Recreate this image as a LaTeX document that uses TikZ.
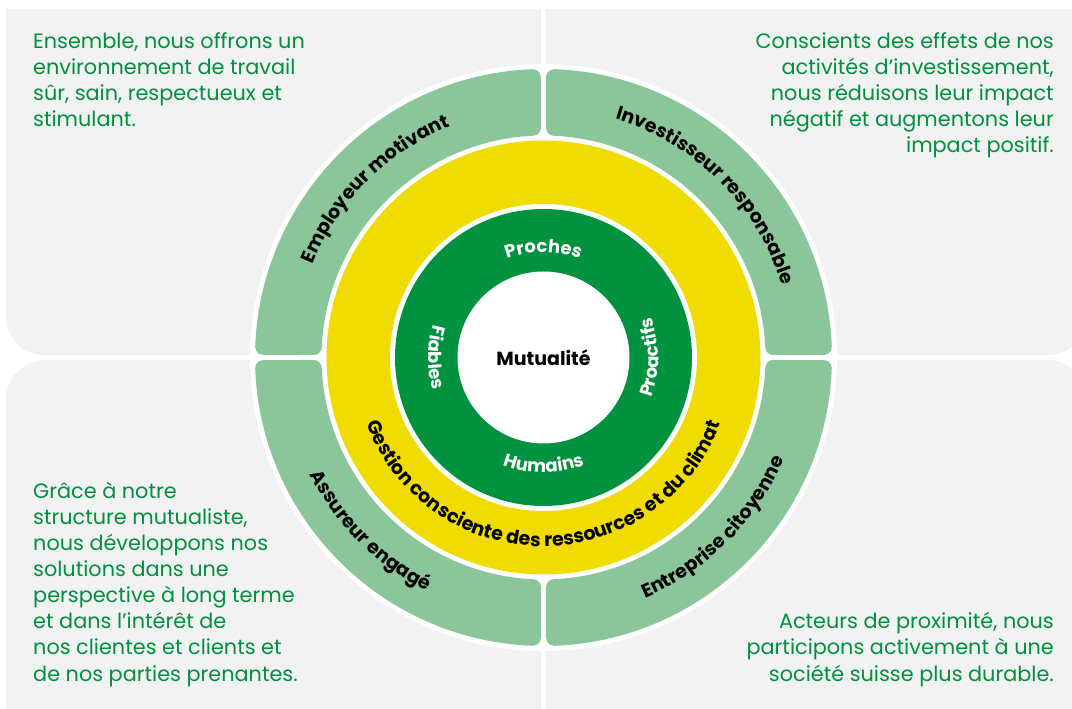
\documentclass[tikz,border=0pt]{standalone}
\usepackage{fontspec}
\setmainfont{Poppins}
\usetikzlibrary{decorations.text}
\definecolor{panelgray}{HTML}{F2F2F2}
\definecolor{ltgreen}{HTML}{8BC69B}
\definecolor{dkgreen}{HTML}{00923F}
\definecolor{ringyellow}{HTML}{F0DC00}
\definecolor{txtgreen}{HTML}{00913F}
\newcommand\lblfont{\bfseries\fontsize{19}{19}\selectfont}
\newcommand\innfont{\bfseries\fontsize{18}{18}\selectfont}
\newcommand\segpath{(2.5,229.76) -- (2.5,280.303) arc[start angle=180,end angle=87.854,radius=8] arc[start angle=87.854,end angle=2.146,radius=288.5] arc[start angle=2.146,end angle=-90,radius=8] -- (229.76,2.5) arc[start angle=270,end angle=182.617,radius=8] arc[start angle=2.617,end angle=87.383,radius=222] arc[start angle=267.383,end angle=180,radius=8] -- cycle}
\tikzset{
  bodyl/.style={font=\fontsize{20.8}{26}\selectfont, text=txtgreen, inner sep=0pt, anchor=base west},
  bodyr/.style={font=\fontsize{20.8}{26}\selectfont, text=txtgreen, inner sep=0pt, anchor=base east},
  arclabel/.style={decorate, decoration={text along path, text align=center, text color=black, text={|\lblfont|#1}}},
  innlabel/.style={decorate, decoration={text along path, text align=center, text color=white, text={|\innfont|#1}}},
  segment/.style={fill=ltgreen}
}
\begin{document}
\begin{tikzpicture}[x=1pt,y=1pt]
\useasboundingbox (-543.5,-351.5) rectangle (528.5,357.5);
% panels
\fill[panelgray] (-537.5,348.5) -- (-2.5,348.5) -- (-2.5,2.5) -- (-499.5,2.5) arc[start angle=-90,end angle=-180,radius=38] -- cycle;
\fill[panelgray] (2.5,348.5) -- (540,348.5) -- (540,37.5) arc[start angle=0,end angle=-90,radius=35] -- (2.5,2.5) -- cycle;
\fill[panelgray] (-537.5,-360) -- (-2.5,-360) -- (-2.5,-2.5) -- (-497.5,-2.5) arc[start angle=90,end angle=180,radius=40] -- cycle;
\fill[panelgray] (2.5,-360) -- (540,-360) -- (540,-37.5) arc[start angle=0,end angle=90,radius=35] -- (2.5,-2.5) -- cycle;
% white halo
\fill[white] (0,0) circle[radius=293.5];
% outer segments
\fill[segment] \segpath;
\begin{scope}[xscale=-1]\fill[segment] \segpath;\end{scope}
\begin{scope}[yscale=-1]\fill[segment] \segpath;\end{scope}
\begin{scope}[xscale=-1,yscale=-1]\fill[segment] \segpath;\end{scope}
% rings
\fill[ringyellow] (0,0) circle[radius=217];
\fill[white] (0,0) circle[radius=153.5];
\fill[dkgreen] (0,0) circle[radius=148.5];
\fill[white] (0,0) circle[radius=86];
% centre
\node[anchor=base, inner sep=0pt, font=\bfseries\fontsize{19}{19}\selectfont] (mut) at (0,-8) {Mutualité};
% outer arc labels
\path[arclabel={Employeur motivant}] (180:249) arc[start angle=180,end angle=90,radius=249];
\path[arclabel={Investisseur responsable}] (90:249) arc[start angle=90,end angle=0,radius=249];
\path[arclabel={Assureur engagé}] (180:261) arc[start angle=180,end angle=270,radius=261];
\path[arclabel={Entreprise citoyenne}] (270:261) arc[start angle=270,end angle=360,radius=261];
\path[arclabel={Gestion consciente des ressources et du climat}] (170:189) arc[start angle=170,end angle=370,radius=189];
% inner labels
\path[innlabel={Proches}] (180:105) arc[start angle=180,end angle=0,radius=105];
\path[innlabel={Humains}] (180:115) arc[start angle=180,end angle=360,radius=115];
\path[innlabel={Proactifs}] (-90:115) arc[start angle=-90,end angle=90,radius=115];
\path[innlabel={Fiables}] (90:115) arc[start angle=90,end angle=270,radius=115];
% texts
\node[bodyl] (tl1) at (-510.5,309) {Ensemble, nous offrons un};
\node[bodyl] (tl2) at (-510.5,283) {environnement de travail};
\node[bodyl] (tl3) at (-510.5,257) {sûr, sain, respectueux et};
\node[bodyl] (tl4) at (-510.5,231) {stimulant.};
\node[bodyr] (tr1) at (510.5,309) {Conscients des effets de nos};
\node[bodyr] (tr2) at (510.5,283) {activités d’investissement,};
\node[bodyr] (tr3) at (510.5,257) {nous réduisons leur impact};
\node[bodyr] (tr4) at (510.5,231) {négatif et augmentons leur};
\node[bodyr] (tr5) at (510.5,205) {impact positif.};
\node[bodyl] (bl1) at (-510.5,-141.5) {Grâce à notre};
\node[bodyl] (bl2) at (-510.5,-167.5) {structure mutualiste,};
\node[bodyl] (bl3) at (-510.5,-193.5) {nous développons nos};
\node[bodyl] (bl4) at (-510.5,-219.5) {solutions dans une};
\node[bodyl] (bl5) at (-510.5,-245.5) {perspective à long terme};
\node[bodyl] (bl6) at (-510.5,-271.5) {et dans l’intérêt de};
\node[bodyl] (bl7) at (-510.5,-297.5) {nos clientes et clients et};
\node[bodyl] (bl8) at (-510.5,-323.5) {de nos parties prenantes.};
\node[bodyr] (br1) at (510.5,-271.5) {Acteurs de proximité, nous};
\node[bodyr] (br2) at (510.5,-297.5) {participons activement à une};
\node[bodyr] (br3) at (510.5,-323.5) {société suisse plus durable.};
\end{tikzpicture}
\end{document}
